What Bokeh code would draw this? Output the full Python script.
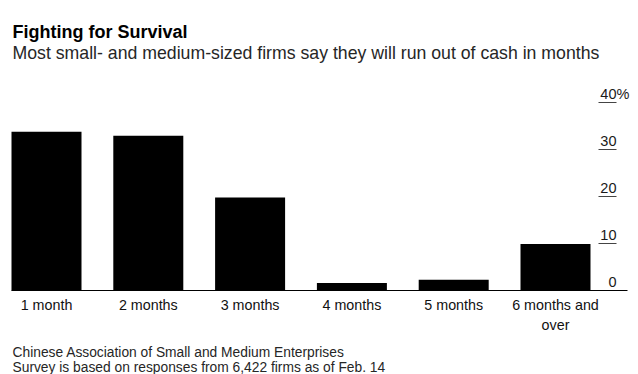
from bokeh.plotting import figure
from bokeh.models import Range1d, ColumnDataSource
from bokeh.core.properties import value
from bokeh.embed import file_html
from bokeh.resources import INLINE

# ---- data ----
categories = ["1 month", "2 months", "3 months", "4 months", "5 months", "6 months and\nover"]
shares = [33.8, 32.9, 19.8, 1.6, 2.3, 9.9]
y_ticks = [0, 10, 20, 30, 40]
y_tick_labels = ["0", "10", "20", "30", "40"]

title = "Fighting for Survival"
subtitle = "Most small- and medium-sized firms say they will run out of cash in months"
note1 = "Chinese Association of Small and Medium Enterprises"
note2 = "Survey is based on responses from 6,422 firms as of Feb. 14"

# ---- layout constants (pixels / scale) ----
FONT = "Liberation Sans"
W, H = 638, 374
PX_PER_CAT = 101.8          # horizontal pixels per category
PX_PER_PCT = 4.7            # vertical pixels per percentage point
BASE_X_PX = 11              # left edge of first bar / baseline start
BASE_END_PX = 627           # baseline end
BASE_Y_PX = 290             # baseline (0 %) from top
TICK_X0_PX, TICK_X1_PX = 598, 616
BAR_W = 0.6876

x_start = -BAR_W / 2 - BASE_X_PX / PX_PER_CAT
x_end = x_start + W / PX_PER_CAT
y_end = BASE_Y_PX / PX_PER_PCT
y_start = y_end - H / PX_PER_PCT

def px_to_x(px):
    return x_start + px / PX_PER_CAT

xs = list(range(len(categories)))

p = figure(width=W, height=H,
           x_range=Range1d(x_start, x_end), y_range=Range1d(y_start, y_end),
           output_backend="svg", toolbar_location=None, title=None,
           x_axis_location=None, y_axis_location=None,
           min_border=0)
p.outline_line_color = None
p.grid.visible = False
p.background_fill_color = "white"
p.border_fill_color = "white"

# bars
src = ColumnDataSource(dict(x=xs, top=shares))
p.vbar(x="x", top="top", width=BAR_W, bottom=0, source=src,
       fill_color="#000000", line_color=None)

# baseline
p.segment(x0=[px_to_x(BASE_X_PX)], y0=[0], x1=[px_to_x(BASE_END_PX)], y1=[0],
          line_color="#000000", line_width=1)

# value ticks (right side, inside)
tick_src = ColumnDataSource(dict(y=y_ticks[1:],
                                 x0=[px_to_x(TICK_X0_PX)] * (len(y_ticks) - 1),
                                 x1=[px_to_x(TICK_X1_PX)] * (len(y_ticks) - 1)))
p.segment(x0="x0", y0="y", x1="x1", y1="y", source=tick_src,
          line_color="#444444", line_width=1.2)
lab_src = ColumnDataSource(dict(y=y_ticks, x=[px_to_x(TICK_X1_PX)] * len(y_ticks),
                                t=y_tick_labels))
p.text(x="x", y="y", text="t", source=lab_src, text_align="right",
       text_baseline="alphabetic", y_offset=-8.5,
       text_font=value(FONT), text_font_size="14.5px", text_color="#1a1a1a")
p.text(x=[px_to_x(TICK_X1_PX)], y=[y_ticks[-1]], text=["%"], text_align="left",
       text_baseline="alphabetic", y_offset=-8.5,
       text_font=value(FONT), text_font_size="14.5px", text_color="#1a1a1a")

# category labels
cat_src = ColumnDataSource(dict(x=xs, y=[0] * len(xs), t=categories))
p.text(x="x", y="y", text="t", source=cat_src, text_align="center",
       text_baseline="top", y_offset=6, text_line_height=1.26,
       text_font=value(FONT), text_font_size="14.3px", text_color="#111111")

# title, subtitle, notes
p.text(x=[x_start], y=[y_end], text=[title], x_offset=12, y_offset=31,
       text_align="left", text_baseline="alphabetic",
       text_font=value(FONT), text_font_size="18px", text_font_style="bold",
       text_color="#000000")
p.text(x=[x_start], y=[y_end], text=[subtitle], x_offset=12, y_offset=52,
       text_align="left", text_baseline="alphabetic",
       text_font=value(FONT), text_font_size="17.7px", text_color="#262626")
p.text(x=[x_start, x_start], y=[y_start, y_start], text=[note1, note2],
       x_offset=12, y_offset=[-22.3, -7.5],
       text_align="left", text_baseline="alphabetic",
       text_font=value(FONT), text_font_size="13.8px", text_color="#262626")

open("out.html", "w").write(file_html(p, INLINE))
